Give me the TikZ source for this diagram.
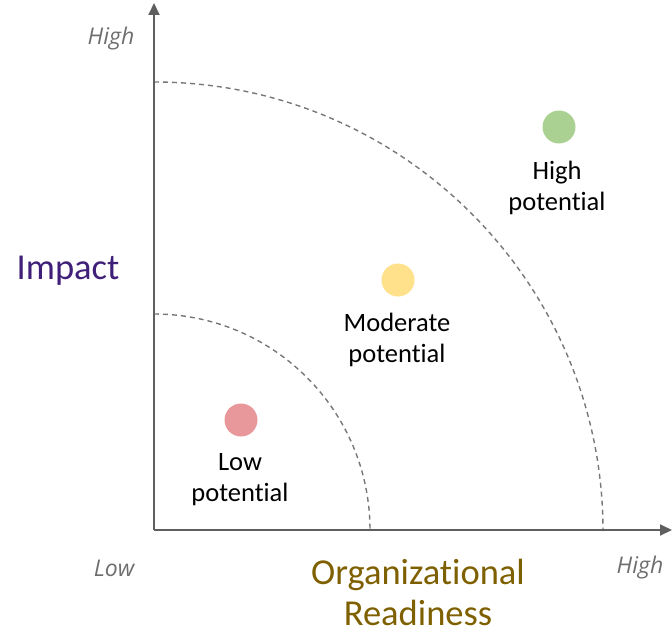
\documentclass[tikz,border=0pt]{standalone}
\usepackage{fontspec}
\setmainfont{Carlito}[Ligatures={CommonOff,RareOff},Contextuals=NoAlternate]
\newfontfamily\axfont{Open Sans}
\usetikzlibrary{arrows.meta}
\definecolor{axgray}{HTML}{5F5F5F}
\definecolor{lblgray}{HTML}{6E6E6E}
\definecolor{impcol}{HTML}{3F1F78}
\definecolor{orgcol}{HTML}{7F6000}
\definecolor{redc}{HTML}{E8989A}
\definecolor{yelc}{HTML}{FFE18C}
\definecolor{grnc}{HTML}{AAD191}
\tikzset{
  axisline/.style={draw=axgray, line width=2pt, -{Triangle[length=12pt,width=11pt]}},
  arcline/.style={draw=axgray!85, line width=1.4pt, dash pattern=on 5pt off 4pt},
  dot/.style={circle, minimum size=33pt, inner sep=0pt, draw=none},
  ptlabel/.style={align=center, font=\fontsize{26.5}{31}\selectfont, text=black},
  endlabel/.style={font=\axfont\itshape\fontsize{23}{26}\selectfont, text=lblgray},
  bigtitle/.style={align=center, inner sep=0pt, font=\fontsize{36.5}{41}\selectfont}
}
\begin{document}
\begin{tikzpicture}[x=1pt,y=-1pt]
\useasboundingbox (0,0) rectangle (672,634);
\coordinate (O) at (154,530);
\coordinate (ytop) at (154,3);
\coordinate (xend) at (672,530);
\draw[arcline] (154,314) arc[start angle=-90, end angle=0, radius=216];
\draw[arcline] (154,82) arc[start angle=-90, end angle=0, radius=449];
\draw[axisline] (O) -- (ytop);
\draw[axisline] (O) -- (xend);
\node[endlabel] (yhigh) at (111,39) {High};
\node[endlabel] (xlow) at (114,568) {Low};
\node[endlabel] (xhigh) at (640,568) {High};
\node[bigtitle, text=impcol] (imp) at (68,271) {Impact};
\node[bigtitle, text=orgcol] (org) at (418,592) {Organizational\\Readiness};
\node[dot, fill=redc] (low) at (241,420) {};
\node[dot, fill=yelc] (mod) at (398,280) {};
\node[dot, fill=grnc] (high) at (559,127) {};
\node[ptlabel] (lowl) at (240,480) {Low\\potential};
\node[ptlabel] (modl) at (397,339.5) {Moderate\\potential};
\node[ptlabel] (highl) at (557,187.5) {High\\potential};
\end{tikzpicture}
\end{document}
